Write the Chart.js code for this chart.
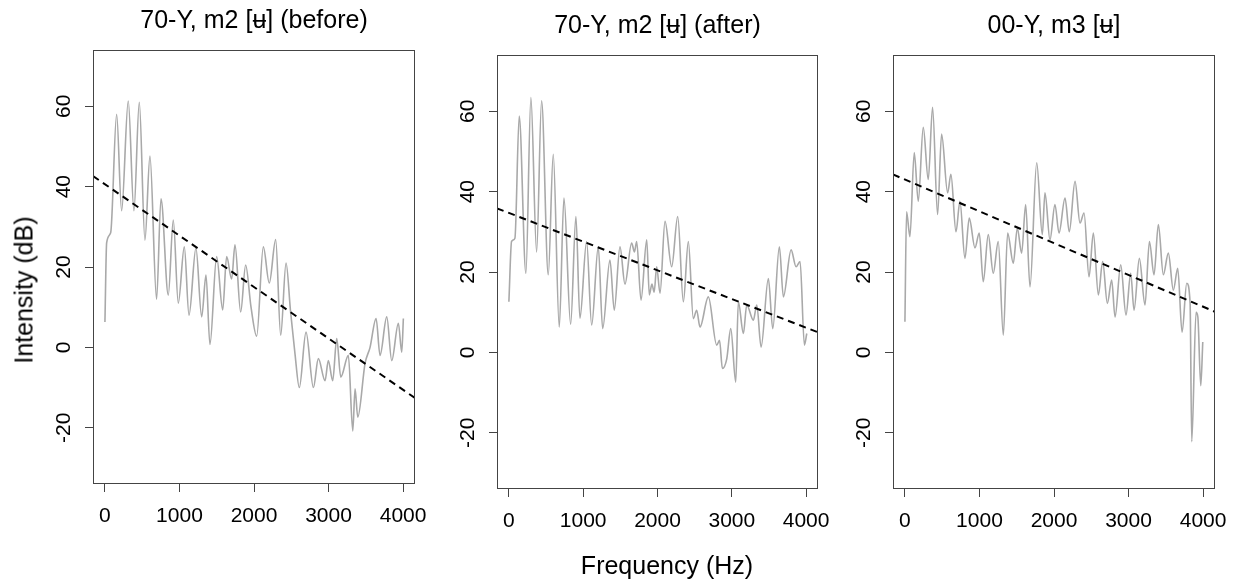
<!DOCTYPE html>
<html>
<head>
<meta charset="utf-8">
<title>Intensity spectra</title>
<script src="https://cdn.jsdelivr.net/npm/chart.js@4.4.0/dist/chart.umd.min.js"></script>
<style>
    body { margin: 0; background: #fff; width: 1239px; height: 581px; position: relative; overflow: hidden;
           font-family: "Liberation Sans", Arial, sans-serif; }
    .panel { position: absolute; top: 0; height: 581px; }
    .lab { position: absolute; font-size: 25px; color: #000; white-space: nowrap; }
    #ylab { left: 24px; top: 290px; transform: translate(-50%, -50%) rotate(-90deg); }
    #xlab { left: 667px; top: 565px; transform: translate(-50%, -50%); }
</style>
</head>
<body>
<div class="panel" id="p0"><canvas id="c0"></canvas></div>
<div class="panel" id="p1"><canvas id="c1"></canvas></div>
<div class="panel" id="p2"><canvas id="c2"></canvas></div>
<div class="lab" id="ylab">Intensity (dB)</div>
<div class="lab" id="xlab">Frequency (Hz)</div>

<script>
// axis settings shared by all three panels
const xTicks = [0, 1000, 2000, 3000, 4000];
const yTicks = [-20, 0, 20, 40, 60];
const xRange = [-160, 4160];
const yRange = [-34, 74];

const titles = ['70-Y, m2 [\u0289] (before)', '70-Y, m2 [\u0289] (after)', '00-Y, m3 [\u0289]'];

// 70-Y, m2 (before)
const freqBefore = [0, 23, 77, 157, 224, 313, 389, 461, 537, 604, 693, 752, 850, 917, 984, 1065, 1128, 1221,
    1298, 1356, 1409, 1499, 1580, 1633, 1700, 1745, 1821, 1888, 1960, 2036, 2125, 2205, 2291, 2358, 2430,
    2490, 2550, 2608, 2698, 2797, 2863, 2953, 2997, 3056, 3110, 3164, 3266, 3325, 3356, 3392, 3490, 3557,
    3638, 3691, 3781, 3848, 3937, 3982, 4004];
const dbBefore = [6.3, 26, 28.5, 58, 34, 61.3, 34, 61, 26.7, 47.6, 12, 37, 13, 31.7, 11, 25, 8, 24.7,
    7.6, 18, 0.7, 22.6, 9.3, 22.6, 17, 25.5, 8.8, 20.5, 10, 2.8, 25, 16, 26.8, 3, 21,
    9, -1.6, -10, 3.8, -10, -2.8, -8.3, -3.3, -8.3, 2.2, -7.4, -2, -20.8, -10.3, -17.4, -4, 0,
    7.2, -2, 7.6, -3.3, 6, -1.2, 7.2];

// 70-Y, m2 (after)
const freqAfter = [0, 36, 81, 139, 229, 296, 373, 440, 530, 597, 678, 741, 831, 902, 956, 1046, 1114, 1203,
    1262, 1360, 1418, 1495, 1562, 1652, 1690, 1720, 1778, 1855, 1890, 1925, 1955, 1989, 2034, 2101, 2191,
    2272, 2348, 2415, 2482, 2527, 2572, 2684, 2797, 2835, 2873, 2932, 2986, 3053, 3088, 3156, 3201, 3290,
    3336, 3394, 3492, 3551, 3640, 3694, 3798, 3865, 3919, 3977, 4009];
const dbAfter = [12.6, 27.6, 28.4, 58.8, 19.7, 63.4, 25, 62.6, 19.3, 49.3, 6.3, 38.4, 7, 33.8, 8.5, 27.6, 6.8, 26.3,
    5.9, 23, 10.5, 26.3, 17, 27.2, 25, 27.6, 13, 28, 14.3, 17, 15, 21.3, 14.7, 32.6, 21.3,
    33.8, 12.6, 27.6, 8.4, 10.5, 6.3, 13.8, 1.8, 3, -4, -1.6, 5.9, -7.4, 12.6, 4.7, 11.8, 8,
    11.8, 1.3, 18.4, 5.9, 26.3, 13.8, 25.5, 21.3, 22.6, 1.8, 4.7];

// 00-Y, m3
const freqM3 = [0, 22, 67, 125, 179, 246, 313, 371, 438, 492, 573, 617, 685, 738, 805, 863, 940, 997,
    1051, 1118, 1185, 1252, 1320, 1378, 1454, 1508, 1566, 1620, 1678, 1768, 1843, 1879, 1946, 2013, 2067,
    2148, 2205, 2282, 2349, 2403, 2470, 2528, 2595, 2653, 2716, 2774, 2819, 2895, 2966, 3029, 3074, 3145,
    3221, 3280, 3342, 3400, 3467, 3534, 3601, 3660, 3718, 3781, 3826, 3848, 3906, 3930, 3969, 3996];
const dbM3 = [7.6, 35, 28.8, 49.7, 37.6, 56, 43, 61, 34.3, 54.3, 39.7, 44.3, 30, 37.6, 23.4, 33.4, 26, 29.7,
    17.6, 29.3, 19.7, 27.6, 4.3, 29.7, 22.2, 30.9, 24.7, 36.8, 16.3, 47.2, 29.3, 39.7, 28, 36.8, 29.7,
    38.4, 30, 42.6, 32.2, 34.7, 18.8, 29.7, 14.3, 22.6, 12.2, 18, 8.8, 21.8, 9.3, 19.7, 10.5, 23.4,
    11.8, 27.6, 19.3, 31.8, 19.3, 24.7, 15.5, 20.9, 5, 17.2, 12.2, -22.2, 10, 8.8, -8.3, 2.6];

// linear fit per panel (dB = intercept + slope * Hz)
const fitIntercept = [40.6, 34.7, 43.0];
const fitSlope = [-0.01279, -0.00714, -0.00791];

const freqs = [freqBefore, freqAfter, freqM3];
const dbs = [dbBefore, dbAfter, dbM3];

// plot box of each panel on the page (px)
const boxes = [
    { left: 93, right: 415, top: 50, bottom: 484 },
    { left: 497, right: 818, top: 55, bottom: 489 },
    { left: 893, right: 1215, top: 55, bottom: 489 }
];

const FONT = '"Liberation Sans", Arial, sans-serif';
Chart.defaults.font.family = FONT;

// box, rotated y labels and title, drawn the way R does it
const rFrame = {
    id: 'rFrame',
    afterDraw(chart, args, opts) {
        const { ctx, chartArea, scales: { y } } = chart;
        ctx.save();
        ctx.strokeStyle = '#444';
        ctx.lineWidth = 1;
        ctx.strokeRect(chartArea.left + 0.5, chartArea.top + 0.5, chartArea.width - 1, chartArea.height - 1);

        ctx.fillStyle = '#000';
        ctx.textAlign = 'center';
        ctx.textBaseline = 'middle';
        ctx.font = '21px ' + FONT;
        y.ticks.forEach(t => {
            ctx.save();
            ctx.translate(chartArea.left - 29, y.getPixelForValue(t.value));
            ctx.rotate(-Math.PI / 2);
            ctx.fillText(String(t.value), 0, 0);
            ctx.restore();
        });

        ctx.font = '25px ' + FONT;
        ctx.fillText(opts.text, (chartArea.left + chartArea.right) / 2, chartArea.top - 29);
        ctx.restore();
    }
};

boxes.forEach((b, i) => {
    const div = document.getElementById('p' + i);
    const w = b.right - b.left + 90;
    div.style.left = (b.left - 60) + 'px';
    div.style.width = w + 'px';
    const canvas = document.getElementById('c' + i);
    canvas.width = w;
    canvas.height = 581;

    const spectrum = freqs[i].map((f, k) => ({ x: f, y: dbs[i][k] }));
    const fit = xRange.map(f => ({ x: f, y: fitIntercept[i] + fitSlope[i] * f }));

    new Chart(canvas, {
        type: 'line',
        data: {
            datasets: [{
                data: fit,
                borderColor: '#000',
                borderWidth: 2,
                borderDash: [7, 5],
                pointRadius: 0
            }, {
                data: spectrum,
                borderColor: '#a9a9a9',
                borderWidth: 1.6,
                pointRadius: 0,
                cubicInterpolationMode: 'monotone'
            }]
        },
        plugins: [rFrame],
        options: {
            responsive: false,
            animation: false,
            layout: { padding: { left: 0, right: 30, top: b.top, bottom: 581 - b.bottom - 40 } },
            plugins: {
                legend: { display: false },
                tooltip: { enabled: false },
                rFrame: { text: titles[i] }
            },
            scales: {
                x: {
                    type: 'linear',
                    min: xRange[0],
                    max: xRange[1],
                    afterFit: s => { s.height = 40; },
                    afterBuildTicks: s => { s.ticks = xTicks.map(v => ({ value: v })); },
                    grid: { drawOnChartArea: false, drawTicks: true, tickLength: 8, color: '#444' },
                    border: { display: false },
                    ticks: {
                        color: '#000', font: { size: 21 }, padding: 12, maxRotation: 0, autoSkip: false,
                        callback: v => String(v)
                    }
                },
                y: {
                    min: yRange[0],
                    max: yRange[1],
                    afterFit: s => { s.width = 60; },
                    afterBuildTicks: s => { s.ticks = yTicks.map(v => ({ value: v })); },
                    grid: { drawOnChartArea: false, drawTicks: true, tickLength: 8, color: '#444' },
                    border: { display: false },
                    ticks: { display: false }
                }
            }
        }
    });
});
</script>
</body>
</html>
